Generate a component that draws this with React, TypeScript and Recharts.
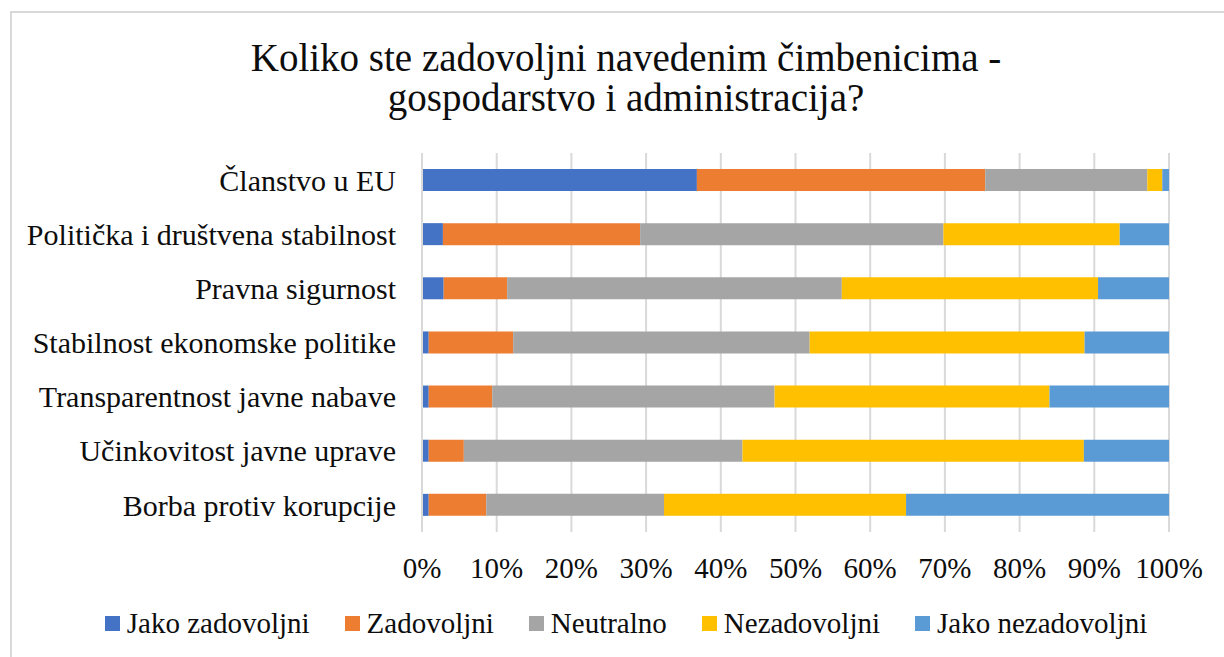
import { BarChart, Bar, XAxis, YAxis, CartesianGrid } from 'recharts'

const categories = [
  'Članstvo u EU',
  'Politička i društvena stabilnost',
  'Pravna sigurnost',
  'Stabilnost ekonomske politike',
  'Transparentnost javne nabave',
  'Učinkovitost javne uprave',
  'Borba protiv korupcije',
]

const jakoZadovoljni = [36.8, 2.8, 2.9, 0.9, 0.9, 0.9, 0.9]
const zadovoljni = [38.6, 26.4, 8.5, 11.3, 8.5, 4.7, 7.7]
const neutralno = [21.7, 40.6, 44.8, 39.7, 37.8, 37.3, 23.8]
const nezadovoljni = [2.0, 23.6, 34.3, 36.8, 36.8, 45.7, 32.4]
const jakoNezadovoljni = [0.9, 6.6, 9.5, 11.3, 16.0, 11.4, 35.2]

const seriesNames = ['Jako zadovoljni', 'Zadovoljni', 'Neutralno', 'Nezadovoljni', 'Jako nezadovoljni']
const seriesValues = [jakoZadovoljni, zadovoljni, neutralno, nezadovoljni, jakoNezadovoljni]
const seriesColors = ['#4472C4', '#ED7D31', '#A5A5A5', '#FFC000', '#5B9BD5']

const xTicks = [0, 0.1, 0.2, 0.3, 0.4, 0.5, 0.6, 0.7, 0.8, 0.9, 1]

const titleLines = ['Koliko ste zadovoljni navedenim čimbenicima -', 'gospodarstvo i administracija?']

const FONT = '"Liberation Serif", serif'
const TEXT = '#0d0d0d'

const data = categories.map((name, i) => {
  const row: Record<string, string | number> = { name }
  seriesNames.forEach((s, k) => {
    row[s] = seriesValues[k][i]
  })
  return row
})

export default function App() {
  return (
    <div style={{ position: 'absolute', left: 0, top: 0, width: 1224, height: 657, overflow: 'hidden', background: '#fff', fontFamily: FONT }}>
      {/* chart frame, right and bottom edges fall outside the shot */}
      <div
        style={{
          position: 'absolute',
          left: 10,
          top: 11,
          width: 1240,
          height: 660,
          border: '2px solid #d9d9d9',
          boxSizing: 'border-box',
        }}
      />
      <div
        style={{
          position: 'absolute',
          left: 10,
          top: 38,
          width: 1232,
          textAlign: 'center',
          fontSize: 39,
          lineHeight: '40px',
          color: TEXT,
        }}
      >
        {titleLines.map(t => (
          <div key={t}>{t}</div>
        ))}
      </div>

      <div style={{ position: 'absolute', left: 0, top: 0 }}>
        <BarChart
          width={1224}
          height={657}
          data={data}
          layout="vertical"
          stackOffset="expand"
          margin={{ top: 153, right: 55, bottom: 95, left: 0 }}
        >
          <CartesianGrid horizontal={false} stroke="#d9d9d9" strokeWidth={2} />
          <XAxis
            type="number"
            domain={[0, 1]}
            ticks={xTicks}
            tickFormatter={v => `${Math.round(v * 100)}%`}
            axisLine={false}
            tickLine={false}
            tickSize={0}
            tickMargin={25}
            height={30}
            tick={{ fill: TEXT, fontSize: 29, fontFamily: FONT }}
          />
          <YAxis
            type="category"
            dataKey="name"
            width={422}
            axisLine={{ stroke: '#d9d9d9', strokeWidth: 2 }}
            tickLine={false}
            tickSize={0}
            tickMargin={26}
            tick={{ fill: TEXT, fontSize: 30, fontFamily: FONT }}
          />
          {seriesNames.map((s, k) => (
            <Bar key={s} dataKey={s} stackId="a" fill={seriesColors[k]} barSize={22} isAnimationActive={false} />
          ))}
        </BarChart>
      </div>

      <div
        style={{
          position: 'absolute',
          left: 10,
          top: 607,
          width: 1232,
          display: 'flex',
          justifyContent: 'center',
          alignItems: 'center',
          fontSize: 29,
          lineHeight: '32px',
          color: TEXT,
        }}
      >
        {seriesNames.map((s, k) => (
          <div key={s} style={{ display: 'flex', alignItems: 'center', marginRight: k < seriesNames.length - 1 ? 35 : 0 }}>
            <span style={{ display: 'inline-block', width: 15, height: 15, background: seriesColors[k], marginRight: 7 }} />
            <span>{s}</span>
          </div>
        ))}
      </div>
    </div>
  )
}
